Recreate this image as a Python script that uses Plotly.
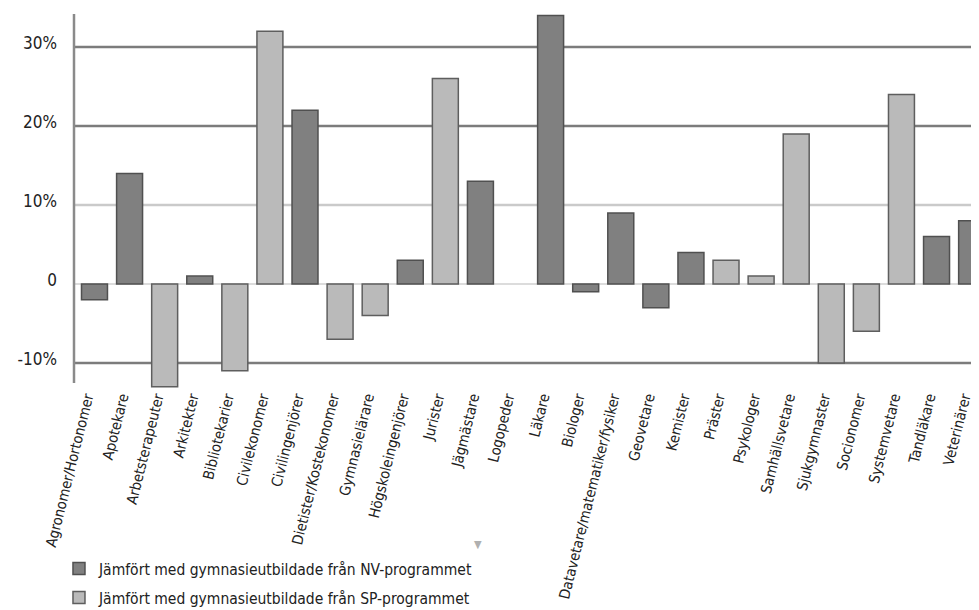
import plotly.graph_objects as go

categories = [
    "Agronomer/Hortonomer", "Apotekare", "Arbetsterapeuter", "Arkitekter",
    "Bibliotekarier", "Civilekonomer", "Civilingenjörer", "Dietister/Kostekonomer",
    "Gymnasielärare", "Högskoleingenjörer", "Jurister", "Jägmästare", "Logopeder",
    "Läkare", "Biologer", "Datavetare/matematiker/fysiker", "Geovetare", "Kemister",
    "Präster", "Psykologer", "Samhällsvetare", "Sjukgymnaster", "Socionomer",
    "Systemvetare", "Tandläkare", "Veterinärer",
]

nv_values = [-2, 14, None, 1, None, None, 22, None, None, 3, None, 13, None,
             34, -1, 9, -3, 4, None, None, None, None, None, None, 6, 8]

sp_values = [None, None, -13, None, -11, 32, None, -7, -4, None, 26, None, None,
             None, None, None, None, None, 3, 1, 19, -10, -6, 24, None, None]

series_names = [
    "Jämfört med gymnasieutbildade från NV-programmet",
    "Jämfört med gymnasieutbildade från SP-programmet",
]

tick_vals = [-10, 0, 10, 20, 30]
tick_text = ["-10%", "0", "10%", "20%", "30%"]
grid_dark = [30, 20, -10]
grid_light = [10]

FONT = "Liberation Sans Narrow, DejaVu Sans Condensed, Arial Narrow, sans-serif"

fig = go.Figure()
fig.add_trace(go.Bar(
    x=categories, y=nv_values, name=series_names[0], legend="legend",
    marker=dict(color="#808080", line=dict(color="#505050", width=1.5)),
    width=0.74,
))
fig.add_trace(go.Bar(
    x=categories, y=sp_values, name=series_names[1], legend="legend2",
    marker=dict(color="#bababa", line=dict(color="#5e5e5e", width=1.5)),
    width=0.74,
))

shapes = []
for g in grid_dark:
    shapes.append(dict(type="line", xref="paper", yref="y", x0=0, x1=1, y0=g, y1=g,
                       line=dict(color="#7c7c7c", width=2.5), layer="below"))
for g in grid_light:
    shapes.append(dict(type="line", xref="paper", yref="y", x0=0, x1=1, y0=g, y1=g,
                       line=dict(color="#cacaca", width=2.5), layer="below"))
shapes.append(dict(type="line", xref="paper", yref="y", x0=0, x1=1, y0=0, y1=0,
                   line=dict(color="#d0d0d0", width=1.5), layer="below"))
# vertical axis line
shapes.append(dict(type="line", xref="paper", yref="y", x0=0, x1=0, y0=-12.55, y1=34.18,
                   line=dict(color="#8a8a8a", width=2.5), layer="above"))

legend_style = dict(
    xanchor="left", yanchor="middle", orientation="v",
    font=dict(family=FONT, size=15.5, color="#222222"),
    bgcolor="rgba(0,0,0,0)",
)

fig.update_layout(
    width=971, height=602,
    margin=dict(l=66, r=0, t=6, b=219, autoexpand=False),
    paper_bgcolor="white", plot_bgcolor="white",
    barmode="overlay",
    font=dict(family=FONT, size=15.5, color="#222222"),
    shapes=shapes,
    showlegend=True,
    legend=dict(x=-0.0166, y=-0.472, **legend_style),
    legend2=dict(x=-0.0166, y=-0.549, **legend_style),
    annotations=[dict(
        text="▼", xref="paper", yref="paper", x=0.446, y=-0.429,
        showarrow=False, font=dict(size=11, color="#b0b0b0"),
    )],
)

fig.update_xaxes(
    type="category", categoryorder="array", categoryarray=categories,
    range=[-0.584, 25.21], tickangle=-76, showgrid=False, showline=False,
    zeroline=False, ticks="", automargin=False,
    ticklabelstandoff=-6, ticklabelshift=-8,
    tickfont=dict(family=FONT, size=14.7, color="#222222"),
)
fig.update_yaxes(
    range=[-13.55, 34.18], tickvals=tick_vals, ticktext=tick_text,
    showgrid=False, zeroline=False, showline=False, ticks="",
    ticklabelstandoff=16, ticklabelshift=-4, automargin=False,
    tickfont=dict(family=FONT, size=17, color="#222222"),
)

fig.write_html("out.html")
